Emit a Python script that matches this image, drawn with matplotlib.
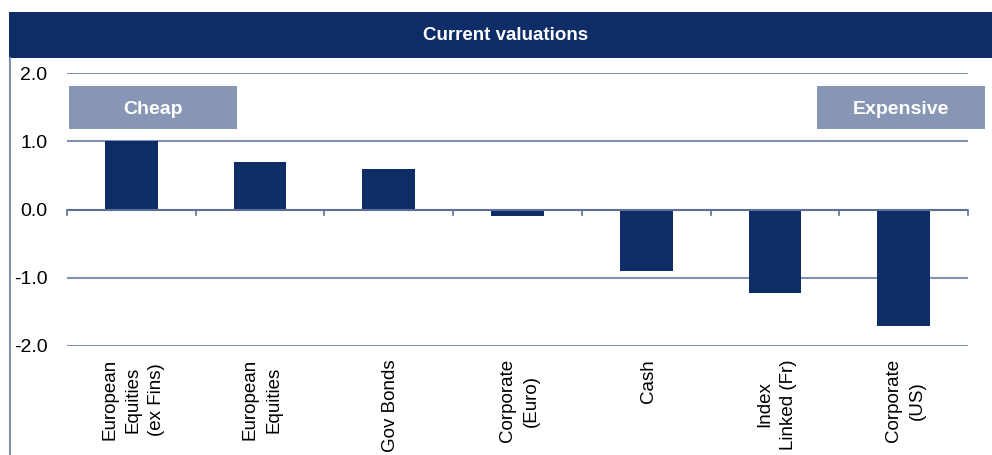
import matplotlib
matplotlib.use("Agg")
import matplotlib.pyplot as plt
from matplotlib.patches import Rectangle
from matplotlib.lines import Line2D

plt.rcParams['font.family'] = ['Liberation Sans', 'DejaVu Sans']

categories = ["European\nEquities\n(ex Fins)", "European\nEquities", "Gov Bonds",
              "Corporate\n(Euro)", "Cash", "Index\nLinked (Fr)", "Corporate\n(US)"]
values = [1.0, 0.70, 0.60, -0.10, -0.90, -1.22, -1.71]
yticks = [2.0, 1.0, 0.0, -1.0, -2.0]
title = "Current valuations"

navy = "#0e2d66"
grid_c = "#8192b4"
box_c = "#8796b4"

W, H = 992, 455
fig = plt.figure(figsize=(W / 100, H / 100), dpi=100)

# title bar
fig.patches.append(Rectangle((9 / W, 1 - 58 / H), (W - 9) / W, 46 / H,
                             transform=fig.transFigure, facecolor=navy, edgecolor='none'))
fig.text(506 / W, 1 - 36 / H, title, color='white', fontsize=13.5, fontweight='bold',
         ha='center', va='center')
# left border
fig.add_artist(Line2D([9.5 / W, 9.5 / W], [0, 1 - 58 / H], transform=fig.transFigure,
                      color=grid_c, lw=1.5))

ax = fig.add_axes([67 / W, 109 / H, (968 - 67) / W, (346 - 73) / H])
x = list(range(len(categories)))
ax.bar(x, values, width=0.41, color=navy, zorder=3)
ax.set_xlim(-0.5, len(categories) - 0.5)
ax.set_ylim(-2, 2)
for s in ax.spines.values():
    s.set_visible(False)
for yv in yticks:
    if yv != 0:
        ax.axhline(yv, color=grid_c, lw=1.5, zorder=1)
ax.axhline(0, color="#5c6f99", lw=1.5, zorder=4)
# boundary tick marks on zero line
for b in [i - 0.5 for i in range(len(categories) + 1)]:
    ax.plot([b, b], [0, -0.075], color="#5c6f99", lw=1.2, zorder=4, clip_on=False)

ax.set_yticks(yticks)
ax.set_yticklabels([f"{v:.1f}" for v in yticks], fontsize=14)
ax.tick_params(axis='y', length=0, pad=14)
ax.set_xticks(x)
ax.set_xticklabels([])
ax.tick_params(axis='x', length=0)
for xi, lab in zip(x, categories):
    ax.annotate(lab, xy=(xi, -2), xycoords='data', xytext=(2, -13), textcoords='offset pixels',
                rotation=90, ha='center', va='top', multialignment='center',
                fontsize=13.5, linespacing=1.5)

# Cheap / Expensive boxes
for (x0, x1, txt) in [(69, 237, "Cheap"), (817, 985, "Expensive")]:
    fig.patches.append(Rectangle((x0 / W, 1 - 129 / H), (x1 - x0) / W, 43 / H,
                                 transform=fig.transFigure, facecolor=box_c, edgecolor='none'))
    fig.text((x0 + x1) / 2 / W, 1 - 109 / H, txt, color='white', fontsize=14,
             fontweight='bold', ha='center', va='center')

fig.savefig("out.png", dpi=100)
